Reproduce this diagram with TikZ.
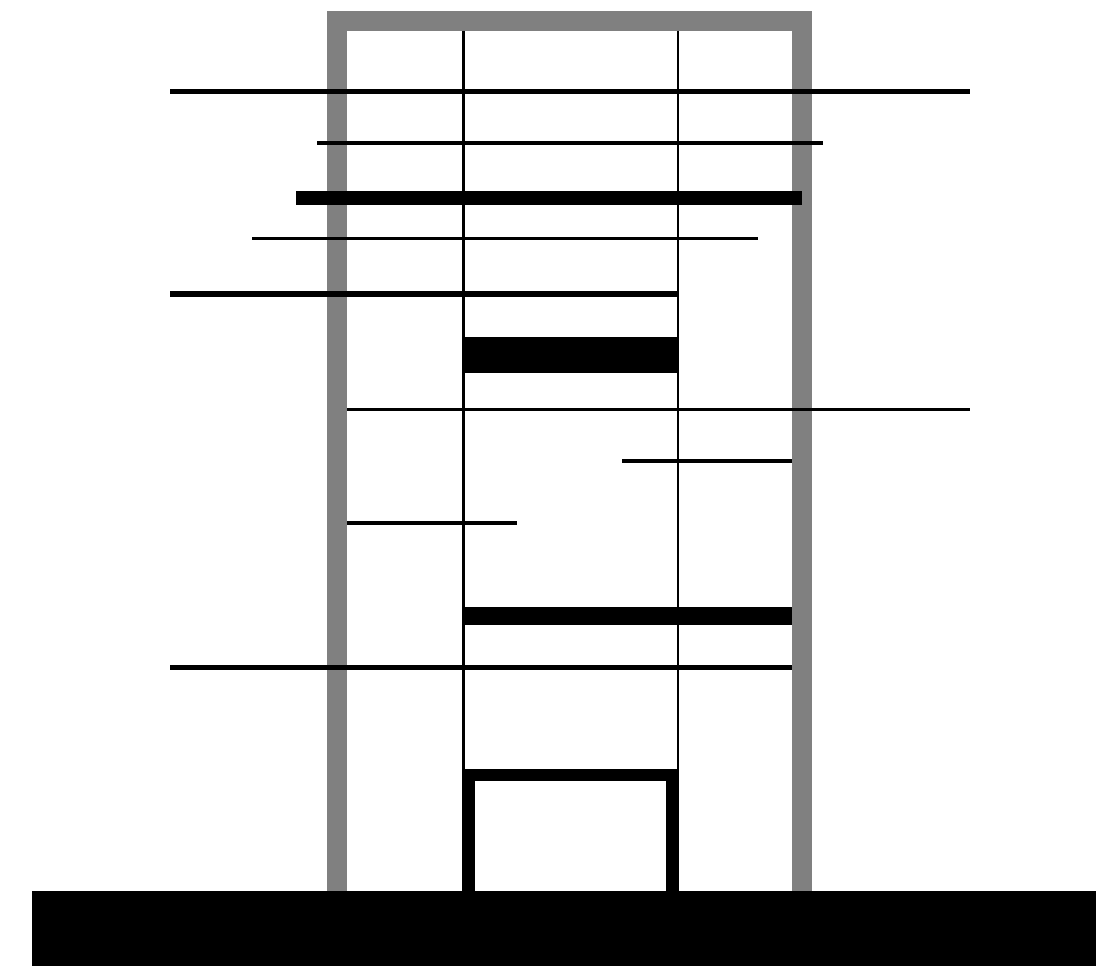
\documentclass[tikz,border=0pt]{standalone}
\definecolor{framegray}{HTML}{808080}
\tikzset{
  framestroke/.style={draw=framegray, line width=20pt, line join=miter},
  vline/.style={draw=black, line width=2.5pt},
  bar/.style={draw=black, line width=#1},
  doorstroke/.style={draw=black, line width=12.5pt, line join=miter},
}
\begin{document}
\begin{tikzpicture}[x=1pt,y=-1pt]
\useasboundingbox (0,0) rectangle (1104,966);
% frame
\draw[framestroke] (337,891) -- (337,21) -- (802,21) -- (802,891);
% vertical lines
\coordinate (v1t) at (463.5,31); \coordinate (v1b) at (463.5,891);
\coordinate (v2t) at (678,31); \coordinate (v2b) at (678,891);
\draw[vline] (v1t) -- (v1b);
\draw[vline] (v2t) -- (v2b);
% horizontal bars
\draw[bar=5pt] (170,91.3) -- (970,91.3);
\draw[bar=4.5pt] (317,143) -- (823,143);
\draw[bar=14.5pt] (296,198) -- (802,198);
\draw[bar=3.3pt] (252,238.4) -- (758,238.4);
\draw[bar=5.5pt] (170,294) -- (678,294);
\fill[black] (463,337) rectangle (678,373);
\draw[bar=3pt] (347,409.2) -- (970,409.2);
\draw[bar=3.3pt] (622,461) -- (792,461);
\draw[bar=3.6pt] (347,523) -- (517,523);
\draw[bar=17.7pt] (463,616.2) -- (792,616.2);
\draw[bar=5pt] (170,667.5) -- (792,667.5);
% door
\draw[doorstroke] (468.5,891) -- (468.5,775) -- (672.5,775) -- (672.5,891);
% ground
\fill[black] (32,891) rectangle (1096,966);
\end{tikzpicture}
\end{document}
